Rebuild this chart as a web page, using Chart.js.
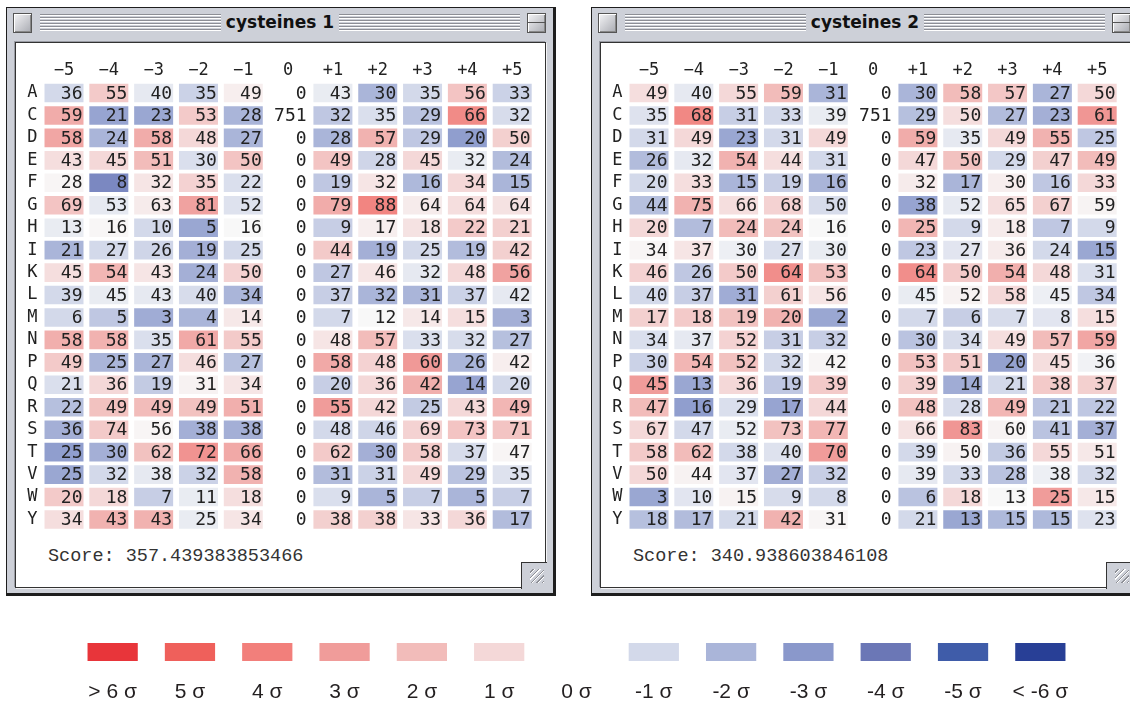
<!DOCTYPE html>
<html>
<head>
<meta charset="utf-8">
<script src="https://cdn.jsdelivr.net/npm/chart.js@4.4.1/dist/chart.umd.min.js"></script>
<style>
  body { margin: 0; background: #fff; width: 1130px; height: 706px; overflow: hidden; position: relative; }
  .win { position: absolute; top: 7px; width: 546px; height: 585px; background: #cdd0d8;
         border: 1px solid #1e1e1e; border-right-width: 3px; border-bottom-width: 3px; }
  .closebox, .zoombox { position: absolute; top: 5px; width: 17px; height: 18px; border: 1px solid #555;
         background: linear-gradient(135deg, #f4f4f6, #a9abb2); box-shadow: inset 1px 1px 0 #fff, inset -1px -1px 0 #888; }
  .closebox { left: 6px; }
  .zoombox { left: 520px; }
  .zoombox::after { content: ""; position: absolute; left: 0; right: 0; top: 8px; height: 1px; background: #555; }
  .stripes { position: absolute; left: 33px; width: 480px; top: 6px; height: 18px;
         background: repeating-linear-gradient(to bottom, #8d8f96 0 1px, #fff 1px 2px, transparent 2px 3px); }
  .title { position: absolute; left: 0; right: 0; top: 4px; text-align: center; }
  .title span { background: #cdd0d8; padding: 0 5px; font: bold 17px "DejaVu Sans", sans-serif; color: #111; }
  .content { position: absolute; left: 8px; top: 34px; width: 529px; height: 544px; background: #fff;
         border: 1px solid #333; box-shadow: -1px -1px 0 #9a9ca4, 1px 1px 0 #f4f4f6; }
  .content canvas { position: absolute; left: 0; top: 0; }
  .score { position: absolute; left: 32px; top: 503px; font: 18.5px "Liberation Mono", monospace; color: #333; white-space: pre; }
  .grow { position: absolute; left: 505px; top: 519px; width: 25px; height: 26px; background: #cdd0d8;
         border-left: 1px solid #333; border-top: 1px solid #333; }
  .grow::after { content: ""; position: absolute; left: 8px; top: 6px; width: 14px; height: 14px;
         background: repeating-linear-gradient(135deg, transparent 0 2px, #8d8f96 2px 3px, #fff 3px 4px); }
  #legend { position: absolute; left: 74px; top: 630px; }
</style>
</head>
<body>

<div class="win" style="left:6px">
  <div class="closebox"></div>
  <div class="stripes"></div>
  <div class="title"><span>cysteines 1</span></div>
  <div class="zoombox"></div>
  <div class="content">
    <canvas id="grid1" width="529" height="490"></canvas>
    <div class="score">Score: 357.439383853466</div>
    <div class="grow"></div>
  </div>
</div>

<div class="win" style="left:591px">
  <div class="closebox"></div>
  <div class="stripes"></div>
  <div class="title"><span>cysteines 2</span></div>
  <div class="zoombox"></div>
  <div class="content">
    <canvas id="grid2" width="529" height="490"></canvas>
    <div class="score">Score: 340.938603846108</div>
    <div class="grow"></div>
  </div>
</div>

<canvas id="legend" width="1005" height="76"></canvas>

<script>
// positions relative to cysteine, and amino acids
const cols = ["−5", "−4", "−3", "−2", "−1", "0", "+1", "+2", "+3", "+4", "+5"];
const rows = ["A", "C", "D", "E", "F", "G", "H", "I", "K", "L", "M", "N", "P", "Q", "R", "S", "T", "V", "W", "Y"];

// counts, cysteines 1
const counts1 = [
  [36, 55, 40, 35, 49, 0, 43, 30, 35, 56, 33],
  [59, 21, 23, 53, 28, 751, 32, 35, 29, 66, 32],
  [58, 24, 58, 48, 27, 0, 28, 57, 29, 20, 50],
  [43, 45, 51, 30, 50, 0, 49, 28, 45, 32, 24],
  [28, 8, 32, 35, 22, 0, 19, 32, 16, 34, 15],
  [69, 53, 63, 81, 52, 0, 79, 88, 64, 64, 64],
  [13, 16, 10, 5, 16, 0, 9, 17, 18, 22, 21],
  [21, 27, 26, 19, 25, 0, 44, 19, 25, 19, 42],
  [45, 54, 43, 24, 50, 0, 27, 46, 32, 48, 56],
  [39, 45, 43, 40, 34, 0, 37, 32, 31, 37, 42],
  [6, 5, 3, 4, 14, 0, 7, 12, 14, 15, 3],
  [58, 58, 35, 61, 55, 0, 48, 57, 33, 32, 27],
  [49, 25, 27, 46, 27, 0, 58, 48, 60, 26, 42],
  [21, 36, 19, 31, 34, 0, 20, 36, 42, 14, 20],
  [22, 49, 49, 49, 51, 0, 55, 42, 25, 43, 49],
  [36, 74, 56, 38, 38, 0, 48, 46, 69, 73, 71],
  [25, 30, 62, 72, 66, 0, 62, 30, 58, 37, 47],
  [25, 32, 38, 32, 58, 0, 31, 31, 49, 29, 35],
  [20, 18, 7, 11, 18, 0, 9, 5, 7, 5, 7],
  [34, 43, 43, 25, 34, 0, 38, 38, 33, 36, 17]
];

// deviation in sigma read from the cell shades, cysteines 1
const sigma1 = [
  [-1, 1.5, -0.5, -1.2, 0.3, null, -0.4, -2, -1, 1.7, -1.2],
  [2.5, -2.6, -2.5, 1.5, -2, null, -1.5, -0.8, -1.6, 3.6, -0.9],
  [2.7, -2, 2.5, 1, -2, null, -2, 2.3, -1.5, -2.8, 1.3],
  [0.8, 1, 2, -0.8, 1.7, null, 1.7, -1.1, 1, -0.4, -1.8],
  [0.1, -3.5, 0.6, 1.2, -0.8, null, -1.5, 0.6, -1.9, 1, -2],
  [1.7, -0.5, 0.4, 2.8, -0.7, null, 2.5, 3.8, 0.4, 0.8, 0.7],
  [-0.4, 0.05, -1, -2.5, 0, null, -1.3, 0.3, 0.7, 1.5, 1.3],
  [-2, -1, -1.1, -2.2, -1, null, 1.5, -2.2, -1, -1.8, 1.3],
  [0.8, 2.2, 0.6, -2.2, 1.2, null, -1.5, 0.6, -0.5, 1, 2.8],
  [-1, -0.4, -0.5, -0.9, -2, null, -1.3, -2, -2, -1.2, -0.5],
  [-1, -1.5, -2.3, -2, 0.5, null, -1, 0, 0.5, 0.8, -2.2],
  [2.4, 2.3, -0.8, 2.6, 1.5, null, 0.6, 2, -0.8, -0.9, -1.7],
  [1.5, -2, -2, 0.8, -1.7, null, 2.6, 1.2, 3.1, -2, 0.3],
  [-0.8, 1, -1.4, 0.2, 0.6, null, -1.3, 1, 2.4, -2.6, -1],
  [-1.7, 1.8, 2, 1.8, 2.4, null, 3, 1, -1.4, 1, 2.2],
  [-2.2, 1.5, 0.1, -2.2, -2.2, null, -1, -1.1, 1.2, 1.7, 1.7],
  [-2.8, -2.2, 1.8, 3.3, 2.6, null, 1.5, -2.2, 1.5, -0.9, 0.1],
  [-2.5, -1, -0.5, -1.2, 2.3, null, -1.8, -1.2, 1, -1.6, -0.7],
  [1.5, 1, -1.3, -0.4, 0.8, null, -0.8, -2, -1.3, -2, -1.3],
  [0.8, 2.3, 2.3, -0.4, 0.6, null, 1.3, 1.3, 0.6, 1, -1.8]
];

// counts, cysteines 2
const counts2 = [
  [49, 40, 55, 59, 31, 0, 30, 58, 57, 27, 50],
  [35, 68, 31, 33, 39, 751, 29, 50, 27, 23, 61],
  [31, 49, 23, 31, 49, 0, 59, 35, 49, 55, 25],
  [26, 32, 54, 44, 31, 0, 47, 50, 29, 47, 49],
  [20, 33, 15, 19, 16, 0, 32, 17, 30, 16, 33],
  [44, 75, 66, 68, 50, 0, 38, 52, 65, 67, 59],
  [20, 7, 24, 24, 16, 0, 25, 9, 18, 7, 9],
  [34, 37, 30, 27, 30, 0, 23, 27, 36, 24, 15],
  [46, 26, 50, 64, 53, 0, 64, 50, 54, 48, 31],
  [40, 37, 31, 61, 56, 0, 45, 52, 58, 45, 34],
  [17, 18, 19, 20, 2, 0, 7, 6, 7, 8, 15],
  [34, 37, 52, 31, 32, 0, 30, 34, 49, 57, 59],
  [30, 54, 52, 32, 42, 0, 53, 51, 20, 45, 36],
  [45, 13, 36, 19, 39, 0, 39, 14, 21, 38, 37],
  [47, 16, 29, 17, 44, 0, 48, 28, 49, 21, 22],
  [67, 47, 52, 73, 77, 0, 66, 83, 60, 41, 37],
  [58, 62, 38, 40, 70, 0, 39, 50, 36, 55, 51],
  [50, 44, 37, 27, 32, 0, 39, 33, 28, 38, 32],
  [3, 10, 15, 9, 8, 0, 6, 18, 13, 25, 15],
  [18, 17, 21, 42, 31, 0, 21, 13, 15, 15, 23]
];

// deviation in sigma, cysteines 2
const sigma2 = [
  [0.8, -0.5, 1, 2, -2, null, -2, 2, 1.6, -2, 1],
  [-0.7, 3.7, -1.3, -1, -0.4, null, -1.7, 0.8, -1.8, -2.2, 3.2],
  [-1, 1, -2.5, -1, 1, null, 2.5, -0.5, 1, 2.3, -1.5],
  [-1.8, -0.5, 2.3, 0.8, -1, null, 1, 1.8, -1, 1.3, 2],
  [-1, 0.8, -2, -1.3, -2, null, 0.4, -2, 0.3, -1.5, 1],
  [-1.7, 2.3, 0.8, 1.2, -0.9, null, -2.6, -0.5, 0.8, 1.3, 0.15],
  [1, -1.8, 2, 1.8, 0, null, 2.2, -1, 0.4, -1.5, -1],
  [0.1, 0.6, -0.3, -0.8, -0.4, null, -1.5, -0.6, 0.4, -1, -2.5],
  [1.2, -1.5, 1.5, 3.5, 1.8, null, 3.5, 1.5, 2.4, 1, -0.8],
  [-1, -1.3, -2.3, 1.3, 0.6, null, -0.4, 0.2, 1, -0.3, -1.5],
  [1.3, 1.5, 1.8, 2.3, -2.5, null, -1, -1.3, -0.9, -0.6, 0.8],
  [-0.8, -0.5, 1.2, -1.3, -1.3, null, -1.6, -0.9, 0.8, 2, 2.7],
  [-1.2, 2.2, 1.8, -1, 0.1, null, 1.8, 1.5, -2.7, 0.8, -0.2],
  [3, -2.5, 1, -1.5, 1.5, null, 1.3, -2.3, -1, 1.5, 1.3],
  [2, -2.8, -0.8, -2.6, 1, null, 1.8, -0.9, 2.2, -1.6, -1.5],
  [1, -1, -0.4, 1.8, 2.2, null, 0.7, 3.2, 0.15, -1.6, -2.2],
  [1.5, 2, -1, -0.7, 3, null, -1, 0.2, -1.4, 1, 0.5],
  [1, 0.2, -0.6, -2.2, -1.3, null, -0.5, -1, -1.6, -0.3, -1],
  [-2.5, -0.6, 0.2, -0.9, -1, null, -1.6, 1, 0, 3, 0.5],
  [-1.7, -1.8, -1, 2.3, 0.1, null, -1, -2.5, -1.9, -1.9, -0.7]
];

// colour key
const legendLevels = [6, 5, 4, 3, 2, 1, 0, -1, -2, -3, -4, -5, -6];
const legendLabels = ["> 6 σ", "5 σ", "4 σ", "3 σ", "2 σ", "1 σ", "0 σ", "-1 σ", "-2 σ", "-3 σ", "-4 σ", "-5 σ", "< -6 σ"];
const keyColors = ["#e8353a", "#ef605b", "#f27f7b", "#f09c9a", "#f2bcba", "#f4d8d8", "#f8f8f8",
                   "#d3d9ea", "#aab5d9", "#8a98cb", "#6b77b6", "#3f5ca9", "#283f96"];

const hex = h => [1, 3, 5].map(i => parseInt(h.slice(i, i + 2), 16));

// sigma -> colour, interpolated between the key colours
function shade(s) {
  const v = Math.max(-6, Math.min(6, s));
  const pos = 6 - v;               // 0 .. 12 along keyColors
  const i = Math.min(11, Math.floor(pos));
  const t = pos - i;
  const a = hex(keyColors[i]), b = hex(keyColors[i + 1]);
  const c = a.map((x, k) => Math.round(x + (b[k] - x) * t));
  return `rgb(${c[0]},${c[1]},${c[2]})`;
}

const mono = { family: "'DejaVu Sans Mono', monospace", size: 17 };

// no extra room for the end labels, the cells sit at fixed places
const noPad = axis => { axis.paddingTop = axis.paddingBottom = axis.paddingLeft = axis.paddingRight = 0; };

const cellText = {
  id: "cellText",
  afterDatasetsDraw(chart) {
    const ctx = chart.ctx;
    ctx.save();
    ctx.font = "18px 'DejaVu Sans Mono', monospace";
    ctx.fillStyle = "#222";
    ctx.textAlign = "right";
    ctx.textBaseline = "middle";
    chart.data.datasets.forEach((ds, d) => {
      chart.getDatasetMeta(d).data.forEach((bar, i) => {
        const { x, base, y } = bar.getProps(["x", "base", "y"], true);
        ctx.fillText(ds.counts[i], Math.max(x, base) - 1, y + 1);
      });
    });
    ctx.restore();
  }
};

function makeGrid(id, counts, sigma) {
  const datasets = cols.map((col, c) => ({
    label: col,
    data: rows.map(() => [c - 0.435, c + 0.435]),
    counts: rows.map((r, i) => counts[i][c]),
    backgroundColor: rows.map((r, i) => sigma[i][c] === null ? "rgba(0,0,0,0)" : shade(sigma[i][c])),
    borderWidth: 0,
    grouped: false,
    barPercentage: 0.83,
    categoryPercentage: 1
  }));

  return new Chart(document.getElementById(id), {
    type: "bar",
    data: { labels: rows, datasets },
    plugins: [cellText],
    options: {
      indexAxis: "y",
      responsive: false,
      animation: false,
      layout: { padding: { left: 0, right: 10.4, top: 0, bottom: 2.3 } },
      plugins: { legend: { display: false }, tooltip: { enabled: false } },
      scales: {
        x: {
          type: "linear",
          position: "top",
          min: -0.5,
          max: 10.5,
          grid: { display: false, drawTicks: false },
          border: { display: false },
          afterBuildTicks: axis => { axis.ticks = cols.map((_, i) => ({ value: i })); },
          afterFit: axis => { axis.height = 38.8; noPad(axis); },
          ticks: { callback: v => cols[v], font: mono, color: "#222", padding: 1, autoSkip: false, maxRotation: 0 }
        },
        y: {
          grid: { display: false, drawTicks: false },
          border: { display: false },
          afterFit: axis => { axis.width = 25.6; noPad(axis); },
          ticks: { font: mono, color: "#222", padding: 4, autoSkip: false }
        }
      }
    }
  });
}

makeGrid("grid1", counts1, sigma1);
makeGrid("grid2", counts2, sigma2);

new Chart(document.getElementById("legend"), {
  type: "bar",
  data: {
    labels: legendLabels,
    datasets: [{
      data: legendLevels.map(() => [0, 1]),
      backgroundColor: legendLevels.map(l => l === 0 ? "rgba(0,0,0,0)" : shade(l)),
      borderWidth: 0,
      barPercentage: 0.65,
      categoryPercentage: 1
    }]
  },
  options: {
    responsive: false,
    animation: false,
    layout: { padding: { top: 13, left: 0, right: 0, bottom: 0 } },
    plugins: { legend: { display: false }, tooltip: { enabled: false } },
    scales: {
      x: {
        grid: { display: false, drawTicks: false },
        border: { display: false },
        afterFit: axis => { axis.height = 45; noPad(axis); },
        ticks: { font: { family: "'Liberation Sans', Arial, sans-serif", size: 21 }, color: "#231f20",
                 padding: 19, autoSkip: false, maxRotation: 0 }
      },
      y: { display: false, min: 0, max: 1 }
    }
  }
});
</script>
</body>
</html>
